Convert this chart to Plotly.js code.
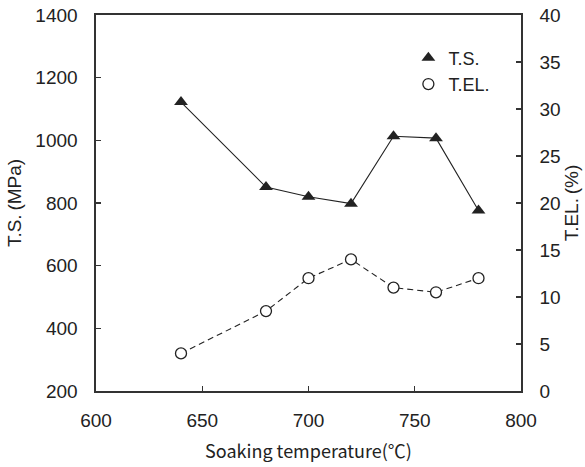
<!DOCTYPE html>
<html>
<head>
<meta charset="utf-8">
<script src="https://cdn.plot.ly/plotly-3.0.1.min.js"></script>
<style>
  html, body { margin: 0; padding: 0; background: #fff; }
  #chart { width: 585px; height: 467px; }
</style>
</head>
<body>
<div id="chart"></div>
<script>
// Soaking temperature (°C)
const temperature = [640, 680, 700, 720, 740, 760, 780];
// Tensile strength (MPa)
const tensileStrength = [1122, 851, 820, 798, 1013, 1007, 776];
// Total elongation (%)
const totalElongation = [4.0, 8.5, 12.0, 14.0, 11.0, 10.5, 12.0];

const ink = '#222222';
const axisInk = '#333333';
const latin = 'Liberation Sans, Arial, sans-serif';
const jp = 'Noto Sans CJK JP, sans-serif';

const traces = [
  {
    x: temperature, y: tensileStrength, mode: 'lines', showlegend: false,
    line: { color: ink, width: 1.1 }, hoverinfo: 'skip'
  },
  {
    x: temperature, y: totalElongation, yaxis: 'y2', mode: 'lines', showlegend: false,
    line: { color: ink, width: 1.1, dash: '6px,4px' }, hoverinfo: 'skip'
  },
  {
    x: temperature, y: tensileStrength, mode: 'markers', name: 'T.S.',
    marker: { symbol: 'triangle-up', size: 12, color: ink, line: { width: 0 } }
  },
  {
    x: temperature, y: totalElongation, yaxis: 'y2', mode: 'markers', name: 'T.EL.',
    marker: { symbol: 'circle', size: 11, color: '#ffffff', line: { color: ink, width: 1.3 } }
  }
];

const tickFont = { family: latin, size: 19, color: ink };

const layout = {
  width: 585, height: 467,
  margin: { l: 96, r: 64, t: 15, b: 76 },
  paper_bgcolor: '#ffffff', plot_bgcolor: '#ffffff',
  showlegend: true,
  legend: {
    x: 0.735, y: 0.935, xanchor: 'left', yanchor: 'top',
    bgcolor: 'rgba(0,0,0,0)', borderwidth: 0,
    font: { family: latin, size: 18, color: ink },
    itemwidth: 30, tracegroupgap: 0
  },
  xaxis: {
    range: [600, 800], dtick: 50, tick0: 600,
    showgrid: false, zeroline: false,
    showline: true, linecolor: axisInk, linewidth: 1.6, mirror: true,
    ticks: 'inside', ticklen: 5, tickwidth: 1.2, tickcolor: axisInk,
    tickfont: tickFont, ticklabelstandoff: 12,
    title: { text: 'Soaking temperature(℃)', font: { family: jp, size: 18, color: ink }, standoff: 15 }
  },
  yaxis: {
    range: [200, 1400], dtick: 200, tick0: 200,
    showgrid: false, zeroline: false,
    showline: true, linecolor: axisInk, linewidth: 1.6,
    ticks: 'inside', ticklen: 5, tickwidth: 1.2, tickcolor: axisInk,
    tickfont: tickFont, ticklabelstandoff: 13,
    title: { text: 'T.S.\u2009(MPa)', font: { family: latin, size: 19, color: ink }, standoff: 8 }
  },
  yaxis2: {
    overlaying: 'y', side: 'right',
    range: [0, 40], dtick: 5, tick0: 0,
    showgrid: false, zeroline: false,
    showline: true, linecolor: axisInk, linewidth: 1.6,
    ticks: 'inside', ticklen: 5, tickwidth: 1.2, tickcolor: axisInk,
    tickfont: tickFont, ticklabelstandoff: 13,
    title: { text: 'T.EL.\u2009(%)', font: { family: latin, size: 19, color: ink }, standoff: 3 }
  }
};

Plotly.newPlot('chart', traces, layout, { displayModeBar: false, staticPlot: true });
</script>
</body>
</html>
